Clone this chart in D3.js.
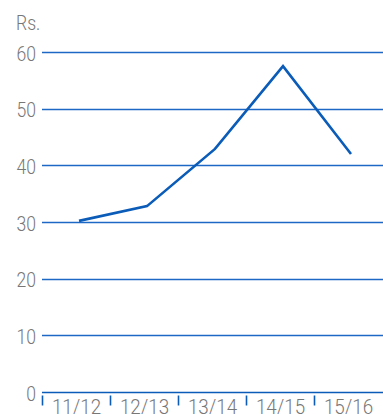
<!DOCTYPE html>
<html lang="en">
<head>
    <meta charset="utf-8">
    <title>Rs. per year</title>
    <style>
        body { margin: 0; background: #fff; }
        text { font-family: Roboto, sans-serif; font-weight: 300; fill: #777; }
    </style>
</head>
<body>
    <script src="https://cdn.jsdelivr.net/npm/d3@7"></script>
    <script>
        // data
        const years = ['11/12', '12/13', '13/14', '14/15', '15/16'];
        const values = [30.2, 32.8, 42.9, 57.5, 42.0];
        const yTicks = [0, 10, 20, 30, 40, 50, 60];

        const width = 383, height = 414;
        const mLeft = 42, mRight = 383, mTop = 52, mBottom = 392;
        const blue = '#0a5cb8';
        const fs = 20, squeeze = 0.88;   // narrow, DIN-like numerals

        const svg = d3.select('body').append('svg')
            .attr('width', width)
            .attr('height', height);

        const x = d3.scaleBand()
            .domain(years)
            .range([mLeft, mLeft + 68 * years.length]);
        const y = d3.scaleLinear()
            .domain([0, 60])
            .range([mBottom, mTop]);

        // gridlines
        svg.append('g').selectAll('line')
            .data(yTicks.filter(d => d > 0))
            .join('line')
                .attr('x1', mLeft).attr('x2', mRight)
                .attr('y1', d => Math.round(y(d)) + 0.5)
                .attr('y2', d => Math.round(y(d)) + 0.5)
                .attr('stroke', '#1d68c4')
                .attr('stroke-width', 1.3);

        // y labels
        svg.append('g').selectAll('text')
            .data(yTicks)
            .join('text')
                .attr('transform', d => `translate(36, ${y(d) + 8.5}) scale(${squeeze}, 1)`)
                .attr('text-anchor', 'end')
                .attr('font-size', fs)
                .text(d => d);

        svg.append('text')
            .attr('transform', `translate(16, 30) scale(${squeeze}, 1)`)
            .attr('font-size', fs)
            .text('Rs.');

        // x axis
        const xAxis = svg.append('g')
            .attr('transform', `translate(0, ${mBottom + 0.5})`);
        xAxis.append('line')
            .attr('x1', mLeft).attr('x2', mRight)
            .attr('stroke', blue).attr('stroke-width', 1.5);
        xAxis.selectAll('.tk')
            .data(years)
            .join('line')
                .attr('class', 'tk')
                .attr('x1', d => x(d) + 0.5).attr('x2', d => x(d) + 0.5)
                .attr('y1', 3).attr('y2', 13)
                .attr('stroke', blue).attr('stroke-width', 1.6);
        xAxis.selectAll('.lbl')
            .data(years)
            .join('text')
                .attr('class', 'lbl')
                .attr('transform', d => `translate(${x(d) + x.bandwidth() / 2 + 0.5}, 21.5) scale(0.94, 1)`)
                .attr('text-anchor', 'middle')
                .attr('font-size', fs)
                .text(d => d);

        // line
        const line = d3.line()
            .x((d, i) => x(years[i]) + x.bandwidth() / 2 + 3)
            .y(d => y(d));
        svg.append('path')
            .datum(values)
            .attr('d', line)
            .attr('fill', 'none')
            .attr('stroke', blue)
            .attr('stroke-width', 2.6);
    </script>
</body>
</html>
